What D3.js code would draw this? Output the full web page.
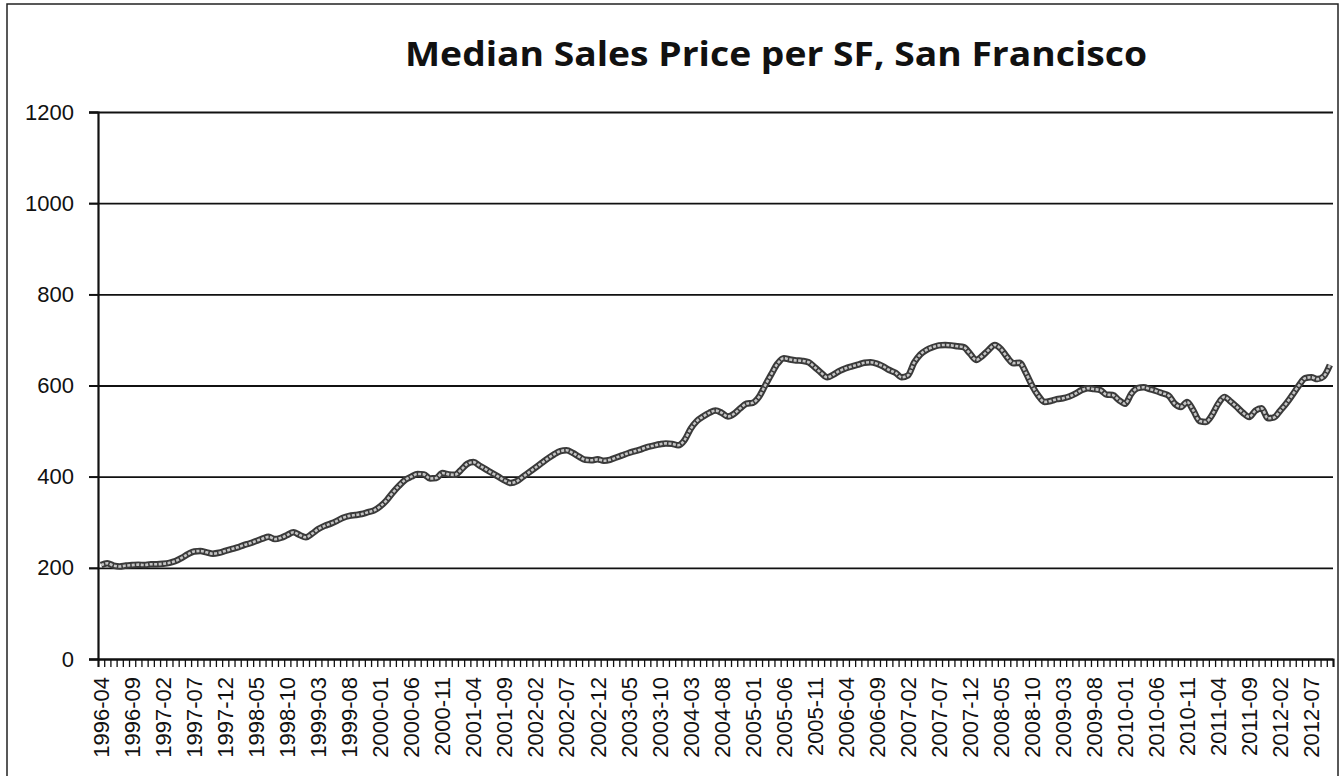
<!DOCTYPE html>
<meta charset="utf-8">
<style>
body { margin: 0; background: #fff; }
.grid line { stroke: #111; stroke-width: 1.8px; }
.grid path { display: none; }
.yaxis text, .xlabels text { font-family: "Liberation Sans", Arial, sans-serif; fill: #111; }
</style>
<svg width="1342" height="776"></svg>
<script src="https://d3js.org/d3.v7.min.js"></script>
<script>

// monthly median price per sq ft, 1996-04 .. 2012-10
var startMonth = "1996-04";
var monthCount = 199;

var prices1996 = [206, 210, 205, 203, 205, 206, 207, 206, 208];
var prices1997 = [208, 209, 211, 215, 222, 230, 236, 237, 234, 231, 233, 237];
var prices1998 = [241, 245, 250, 254, 259, 264, 268, 263, 266, 272, 278, 272];
var prices1999 = [267, 275, 285, 292, 297, 303, 310, 314, 316, 318, 322, 326];
var prices2000 = [335, 348, 365, 380, 393, 400, 406, 405, 396, 397, 408, 405];
var prices2001 = [404, 415, 428, 432, 424, 416, 408, 400, 392, 386, 390, 400];
var prices2002 = [410, 420, 430, 440, 449, 456, 458, 452, 444, 437, 436, 438];
var prices2003 = [435, 437, 442, 447, 452, 456, 460, 465, 468, 471, 473, 472];
var prices2004 = [469, 480, 505, 522, 532, 540, 545, 540, 532, 538, 550, 560];
var prices2005 = [562, 575, 600, 625, 648, 660, 657, 655, 654, 651, 640, 628];
var prices2006 = [618, 624, 632, 638, 642, 646, 650, 651, 648, 642, 634, 628];
var prices2007 = [618, 622, 650, 668, 678, 684, 688, 689, 688, 686, 684, 670];
var prices2008 = [656, 665, 678, 689, 680, 662, 649, 650, 628, 600, 578, 564];
var prices2009 = [566, 570, 572, 576, 582, 590, 594, 592, 590, 580, 579, 568];
var prices2010 = [560, 582, 594, 596, 592, 588, 583, 578, 560, 553, 564, 545];
var prices2011 = [522, 520, 535, 560, 575, 565, 553, 540, 531, 545, 550, 528];
var prices2012 = [530, 545, 561, 580, 600, 616, 618, 614, 620, 645];

var yTicks = [0, 200, 400, 600, 800, 1000, 1200];
var labelEvery = 5;

var prices = [].concat(prices1996, prices1997, prices1998, prices1999, prices2000,
  prices2001, prices2002, prices2003, prices2004, prices2005, prices2006,
  prices2007, prices2008, prices2009, prices2010, prices2011, prices2012);

var parseMonth = d3.utcParse("%Y-%m"),
    fmtMonth = d3.utcFormat("%Y-%m");
var first = parseMonth(startMonth);
var months = d3.utcMonth.range(first, d3.utcMonth.offset(first, monthCount)).map(fmtMonth);

var data = months.map(function(m, i) { return {month: m, value: prices[i]}; });

var svg = d3.select("svg");

var plotLeft = 98, plotRight = 1333, plotTop = 112, plotBottom = 659;

// outer frame of the scanned chart
svg.append("rect")
   .attr("x", 7).attr("y", 4)
   .attr("width", 1331).attr("height", 800)
   .attr("fill", "none")
   .attr("stroke", "#222")
   .attr("stroke-width", 1.5);

svg.append("text")
   .attr("x", 776)
   .attr("y", 66)
   .attr("text-anchor", "middle")
   .attr("font-family", "'Open Sans', sans-serif")
   .attr("font-weight", "bold")
   .attr("font-size", "34px")
   .attr("textLength", 742)
   .attr("lengthAdjust", "spacingAndGlyphs")
   .attr("fill", "#111")
   .text("Median Sales Price per SF, San Francisco");

var x = d3.scaleBand().domain(months).range([plotLeft, plotRight]).padding(0);
var y = d3.scaleLinear().domain([0, 1200]).range([plotBottom, plotTop]);

// horizontal gridlines, with little outer ticks
svg.append("g")
   .attr("class", "grid")
   .attr("transform", "translate(" + plotRight + ",0)")
   .call(d3.axisLeft(y).tickValues(yTicks).tickSize(plotRight - plotLeft + 9).tickFormat(""));

var yAxis = svg.append("g")
   .attr("class", "yaxis")
   .attr("transform", "translate(" + plotLeft + ",0)")
   .call(d3.axisLeft(y).tickValues(yTicks).tickSize(9).tickPadding(15).tickFormat(d3.format("d")));
yAxis.select(".domain").attr("stroke", "#111").attr("stroke-width", 2.2);
yAxis.selectAll(".tick line").attr("stroke", "#111").attr("stroke-width", 1.8);
yAxis.selectAll("text").attr("font-size", "22px");

// category tick marks between every month
var xEdge = d3.scaleLinear().domain([0, monthCount]).range([plotLeft, plotRight]);
var xTicks = svg.append("g")
   .attr("transform", "translate(0," + plotBottom + ")")
   .call(d3.axisBottom(xEdge).tickValues(d3.range(monthCount + 1)).tickSize(8).tickFormat(""));
xTicks.select(".domain").attr("stroke", "#111").attr("stroke-width", 2);
xTicks.selectAll(".tick line").attr("stroke", "#111").attr("stroke-width", 1.3);

var xLabels = svg.append("g")
   .attr("class", "xlabels")
   .attr("transform", "translate(0," + plotBottom + ")")
   .call(d3.axisBottom(x)
           .tickValues(months.filter(function(d, i) { return i % labelEvery == 0; }))
           .tickSize(0));
xLabels.select(".domain").remove();
xLabels.selectAll("text")
   .attr("font-size", "22px")
   .attr("text-anchor", "end")
   .attr("transform", "rotate(-90)")
   .attr("x", -18)
   .attr("y", 0)
   .attr("dy", "0.36em");

var line = d3.line()
   .x(function(d) { return x(d.month) + x.bandwidth() / 2; })
   .y(function(d) { return y(d.value); })
   .curve(d3.curveMonotoneX);

// thick scanned-looking line: dark edge, light core
svg.append("path")
   .datum(data)
   .attr("fill", "none")
   .attr("stroke", "#3a3a3a")
   .attr("stroke-width", 6.5)
   .attr("stroke-linejoin", "round")
   .attr("d", line);

svg.append("path")
   .datum(data)
   .attr("fill", "none")
   .attr("stroke", "#c4c4c4")
   .attr("stroke-width", 2.6)
   .attr("stroke-dasharray", "3,1.5")
   .attr("stroke-linejoin", "round")
   .attr("d", line);

</script>
